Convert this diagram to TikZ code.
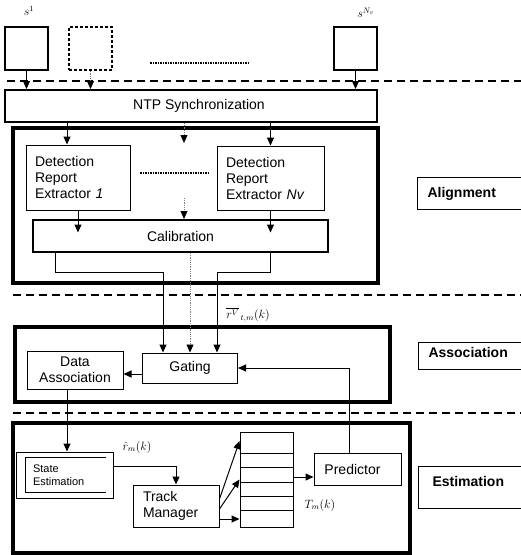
\documentclass[tikz,border=0pt]{standalone}
\usepackage{fontspec}
\setmainfont{Liberation Sans}
\usetikzlibrary{arrows.meta,calc}
\begin{document}
\begin{tikzpicture}[x=1pt,y=-1pt,
  every node/.style={font=\fontsize{14}{16}\selectfont, inner sep=0pt},
  box/.style={draw, line width=1pt},
  medbox/.style={draw, line width=2pt},
  grp/.style={draw, line width=3.2pt},
  arr/.style={line width=1pt, -{Triangle[width=7pt,length=8pt]}},
  dotarr/.style={line width=0.8pt, densely dotted, draw=gray, -{Triangle[width=7pt,length=8pt,color=black]}},
  sepline/.style={line width=1.5pt, dash pattern=on 8pt off 5pt},
  lbl/.style={draw, line width=1pt, font=\bfseries\fontsize{14}{16}\selectfont, align=left, inner xsep=10pt, text width=98pt, anchor=north west, text height=10pt},
  mathlbl/.style={font=\fontsize{12}{14}\selectfont},
]
\useasboundingbox (0,0) rectangle (521,555);

% separators
\draw[sepline] (7,81) -- (525,81);
\draw[sepline] (13,295) -- (525,295);
\draw[sepline] (13,413) -- (525,413);

% sensors
\node[medbox, minimum width=43pt, minimum height=43pt] (s1) at (26.5,48.5) {};
\node[draw, line width=1.5pt, dash pattern=on 3pt off 2pt, minimum width=43pt, minimum height=43pt] (s2) at (90.5,48.5) {};
\node[medbox, minimum width=43pt, minimum height=43pt] (sN) at (355.5,48.5) {};
\node[mathlbl] (ls1) at (29,11) {$s^{1}$};
\node[mathlbl] (lsN) at (366,13) {$s^{N_v}$};
\draw[line width=1.5pt, densely dotted] (150,63) -- (248,63);

% NTP
\node[medbox, minimum width=372pt, minimum height=32pt] (ntp) at (191,106) {\hspace*{16pt}NTP Synchronization};
\draw[arr] (s1.south) -- (s1.south |- ntp.north);
\draw[dotarr] (s2.south) -- (s2.south |- ntp.north);
\draw[arr] (sN.south) -- (sN.south |- ntp.north);

% Alignment group
\node[grp, minimum width=365pt, minimum height=155pt] (aligngrp) at (195.5,205.5) {};
\node[box, minimum height=65pt, text width=86pt, inner xsep=9pt, align=left] (det1) at (78,177.5) {Detection\\Report\\Extractor \textit{1}};
\node[box, minimum height=64pt, text width=89pt, inner xsep=9pt, align=left] (detN) at (270.5,178) {Detection\\Report\\Extractor \textit{Nv}};
\draw[line width=1.5pt, densely dotted] (140,173) -- (208,173);
\node[draw, line width=2pt, minimum width=295pt, minimum height=32pt] (calib) at (180.5,236) {Calibration};

\coordinate (xd1) at (67,0);
\coordinate (xm1) at (184,0);
\coordinate (mid1) at (184,143);
\coordinate (mid2) at (184,198);
\draw[arr] (xd1 |- ntp.south) -- (xd1 |- det1.north);
\draw[dotarr] (xm1 |- ntp.south) -- (mid1);
\draw[arr] (detN.north |- ntp.south) -- (detN.north);
\draw[arr] (det1.south) -- ++(0,22);
\draw[arr] (detN.south) -- ++(0,22);
\draw[dotarr] (mid2) -- (mid2 |- calib.north);

\node[lbl, minimum height=32pt, text depth=3pt] (lalign) at (417,177) {Alignment};

% Association group
\node[grp, minimum width=375pt, minimum height=75pt] (assocgrp) at (202.5,364.5) {};
\node[box, minimum width=96pt, minimum height=38pt, align=center] (da) at (75,370) {Data\\Association};
\node[box, minimum width=95pt, minimum height=30pt] (gat) at (190,368) {Gating};
\node[lbl, minimum height=27pt, text depth=8pt] (lassoc) at (418,342) {Association};

\coordinate (bendL) at (55,272);
\coordinate (bendR) at (270,272);
\coordinate (inL) at (163,0);
\coordinate (inM) at (190,0);
\coordinate (inR) at (217,0);
\draw[arr] (bendL |- calib.south) -- (bendL) -| (inL |- gat.north);
\draw[arr] (bendR |- calib.south) -- (bendR) -| (inR |- gat.north);
\draw[dotarr] (inM |- calib.south) -- (inM |- gat.north);
\node[mathlbl] (rv) at (248,315) {$\overline{r^{V}}_{\,t,m}(k)$};

\coordinate (ga) at (0,374);
\draw[arr] (gat.west |- ga) -- (da.east |- ga);

% Estimation group
\node[grp, minimum width=397pt, minimum height=130pt] (estgrp) at (211.5,488) {};
\node[box, minimum height=46pt, text width=63pt, inner xsep=17pt, align=left, font=\fontsize{11}{13}\selectfont] (se) at (64.5,475) {State\\Estimation};
\draw[line width=0.8pt] (106,457) -- (25,457) -- (25,492) -- (106,492);
\node[box, minimum height=42pt, text width=66pt, inner xsep=10pt, align=left] (tm) at (176,506) {Track\\Manager};
\node[box, minimum width=53pt, minimum height=95pt] (tab) at (266.5,479.5) {};
\foreach \yy in {453,467,482,496,510} \draw[line width=0.8pt] (tab.west |- 0,\yy) -- (tab.east |- 0,\yy);
\node[box, minimum width=87pt, minimum height=32pt] (pred) at (357.5,469) {Predictor\hspace*{10pt}};
\node[lbl, minimum height=42pt, text depth=12pt, inner xsep=14pt] (lest) at (418,466) {Estimation};

\coordinate (dx) at (67,0);
\draw[arr] (dx |- da.south) -- (dx |- se.north);
\coordinate (sey) at (0,466);
\draw[arr] (se.east |- sey) -| (tm.north);
\node[mathlbl] (rh) at (137,447) {$\hat{r}_m(k)$};

\draw[arr] ([yshift=7pt]tm.east) -- ([yshift=38.5pt]tab.west);
\draw[arr] ([yshift=-3pt]tm.east) -- (tab.west);
\draw[arr] ([yshift=-13pt]tm.east) -- ([yshift=-39.5pt]tab.west);
\coordinate (tp) at (0,477);
\draw[arr] (tab.east |- tp) -- (pred.west |- tp);
\node[mathlbl] (tmk) at (320,505) {$T_m(k)$};

\coordinate (pg) at (349,0);
\draw[arr] (pg |- pred.north) |- (gat.east);
\end{tikzpicture}
\end{document}
